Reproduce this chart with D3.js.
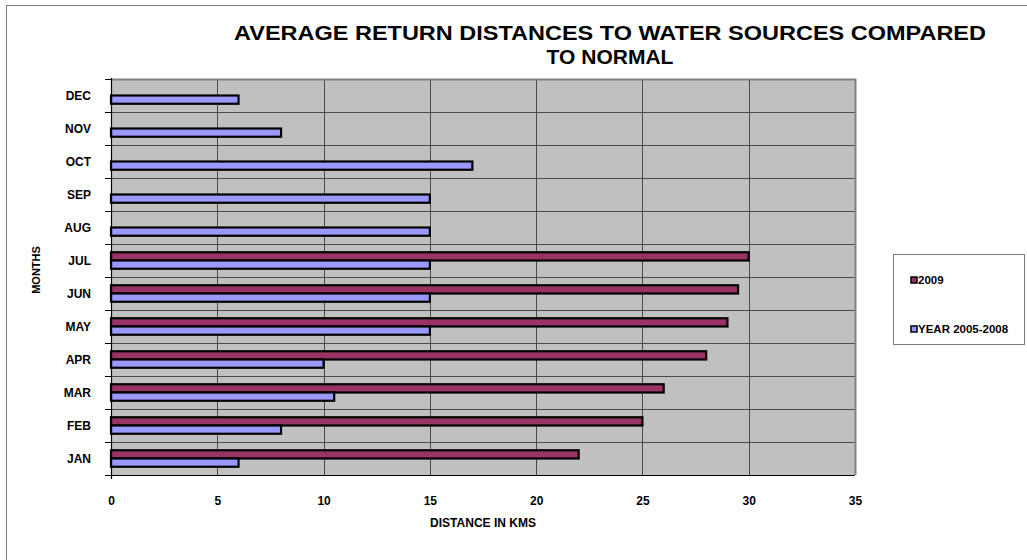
<!DOCTYPE html>
<html>
<head>
<meta charset="utf-8">
<script src="https://cdn.jsdelivr.net/npm/d3@7"></script>
<style>
  html, body { margin: 0; padding: 0; background: #fff; }
  svg { display: block; font-family: "Liberation Sans", Arial, sans-serif; }
</style>
</head>
<body>
<svg id="chart" width="1027" height="560"></svg>
<script>
// Months, bottom to top on the category axis
const months = ["JAN", "FEB", "MAR", "APR", "MAY", "JUN", "JUL", "AUG", "SEP", "OCT", "NOV", "DEC"];
// Average return distance (km) in 2009; no data from August on
const values2009 = [22, 25, 26, 28, 29, 29.5, 30, null, null, null, null, null];
// Average return distance (km), 2005-2008 normal
const valuesNormal = [6, 8, 10.5, 10, 15, 15, 15, 15, 15, 17, 8, 6];
const seriesNames = ["2009", "YEAR 2005-2008"];
const xTicks = [0, 5, 10, 15, 20, 25, 30, 35];

const colors = { "2009": "#993366", "YEAR 2005-2008": "#9999FF" };

const svg = d3.select("#chart");

// chart frame
svg.append("rect")
  .attr("x", 6.5).attr("y", 5.5)
  .attr("width", 1030).attr("height", 570)
  .attr("fill", "#fff").attr("stroke", "#7a7a7a").attr("stroke-width", 1);

const plot = { left: 111, right: 855, top: 79, bottom: 475 };

const x = d3.scaleLinear().domain([0, 35]).range([plot.left, plot.right]);
const y = d3.scaleBand().domain(months.slice().reverse()).range([plot.top, plot.bottom]).padding(0);
const ySeries = d3.scaleBand().domain(seriesNames).range([0, y.bandwidth()]).paddingInner(0).paddingOuter(1.0);

// plot area background
svg.append("rect")
  .attr("x", plot.left).attr("y", plot.top)
  .attr("width", plot.right - plot.left).attr("height", plot.bottom - plot.top)
  .attr("fill", "#C0C0C0");

// vertical gridlines
svg.append("g")
  .selectAll("line")
  .data(xTicks.filter(t => t > 0 && t < 35))
  .join("line")
  .attr("x1", d => Math.round(x(d)) + 0.5).attr("x2", d => Math.round(x(d)) + 0.5)
  .attr("y1", plot.top).attr("y2", plot.bottom)
  .attr("stroke", "#4a4a4a").attr("stroke-width", 1);

// horizontal gridlines at category boundaries
const bounds = months.slice().reverse().map(m => y(m)).concat([plot.bottom]);
svg.append("g")
  .selectAll("line")
  .data(bounds.slice(1, -1))
  .join("line")
  .attr("x1", plot.left).attr("x2", plot.right)
  .attr("y1", d => Math.round(d) + 0.5).attr("y2", d => Math.round(d) + 0.5)
  .attr("stroke", "#4a4a4a").attr("stroke-width", 1);

// plot area border (top and right)
svg.append("path")
  .attr("d", `M${plot.left},${plot.top + 0.5}H${plot.right + 0.5}V${plot.bottom}`)
  .attr("fill", "none").attr("stroke", "#808080").attr("stroke-width", 2);

// bars
const rows = months.map((m, i) => ({ month: m, "2009": values2009[i], "YEAR 2005-2008": valuesNormal[i] }));
const barG = svg.append("g");
seriesNames.forEach(s => {
  barG.append("g")
    .selectAll("rect")
    .data(rows.filter(r => r[s] != null))
    .join("rect")
    .attr("x", x(0))
    .attr("y", d => y(d.month) + ySeries(s))
    .attr("width", d => x(d[s]) - x(0))
    .attr("height", ySeries.bandwidth())
    .attr("fill", colors[s])
    .attr("stroke", "#000")
    .attr("stroke-width", 2.2);
});

// category axis (left)
const yAxis = d3.axisLeft(y).tickSize(0).tickPadding(20);
const yg = svg.append("g").attr("transform", `translate(${plot.left},1)`).call(yAxis);
yg.select(".domain").remove();
yg.selectAll("text")
  .attr("font-size", 12).attr("font-weight", "bold").attr("fill", "#000")
  .attr("font-family", "'Liberation Sans', Arial, sans-serif");
svg.append("line")
  .attr("x1", plot.left + 0.5).attr("x2", plot.left + 0.5)
  .attr("y1", plot.top - 1).attr("y2", plot.bottom + 4)
  .attr("stroke", "#000").attr("stroke-width", 1.2);
svg.append("g")
  .selectAll("line")
  .data(bounds)
  .join("line")
  .attr("x1", plot.left - 6).attr("x2", plot.left)
  .attr("y1", d => Math.round(d) + 0.5).attr("y2", d => Math.round(d) + 0.5)
  .attr("stroke", "#000").attr("stroke-width", 1);

// value axis (bottom)
svg.append("line")
  .attr("x1", plot.left).attr("x2", plot.right)
  .attr("y1", plot.bottom + 0.5).attr("y2", plot.bottom + 0.5)
  .attr("stroke", "#000").attr("stroke-width", 1.2);
const xAxis = d3.axisBottom(x).tickValues(xTicks).tickSize(0).tickPadding(21);
const xg = svg.append("g").attr("transform", `translate(0,${plot.bottom})`).call(xAxis);
xg.select(".domain").remove();
xg.selectAll("text")
  .attr("font-size", 12).attr("font-weight", "bold").attr("fill", "#000")
  .attr("font-family", "'Liberation Sans', Arial, sans-serif");

// axis titles
svg.append("text")
  .attr("x", (plot.left + plot.right) / 2).attr("y", 527)
  .attr("text-anchor", "middle")
  .attr("font-size", 12).attr("font-weight", "bold")
  .text("DISTANCE IN KMS");
svg.append("text")
  .attr("transform", "translate(40,270) rotate(-90)")
  .attr("text-anchor", "middle")
  .attr("font-size", 11).attr("font-weight", "bold")
  .text("MONTHS");

// title
const title = svg.append("text")
  .attr("text-anchor", "middle")
  .attr("font-size", 21).attr("font-weight", "bold");
title.append("tspan").attr("x", 610).attr("y", 40)
  .attr("textLength", 752).attr("lengthAdjust", "spacingAndGlyphs")
  .text("AVERAGE RETURN DISTANCES TO WATER SOURCES COMPARED");
title.append("tspan").attr("x", 610).attr("y", 64).text("TO NORMAL");

// legend
const legend = svg.append("g");
legend.append("rect")
  .attr("x", 893.5).attr("y", 254.5).attr("width", 131).attr("height", 90)
  .attr("fill", "#fff").attr("stroke", "#7a7a7a").attr("stroke-width", 1);
const legendRows = [
  { name: "2009", label: "2009", y: 280 },
  { name: "YEAR 2005-2008", label: "YEAR 2005-2008", y: 329 }
];
legendRows.forEach(r => {
  legend.append("rect")
    .attr("x", 911).attr("y", r.y - 3).attr("width", 6).attr("height", 6)
    .attr("fill", colors[r.name]).attr("stroke", "#000").attr("stroke-width", 1.5);
  legend.append("text")
    .attr("x", 918).attr("y", r.y + 4)
    .attr("font-size", 11.5).attr("font-weight", "bold")
    .text(r.label);
});
</script>
</body>
</html>
